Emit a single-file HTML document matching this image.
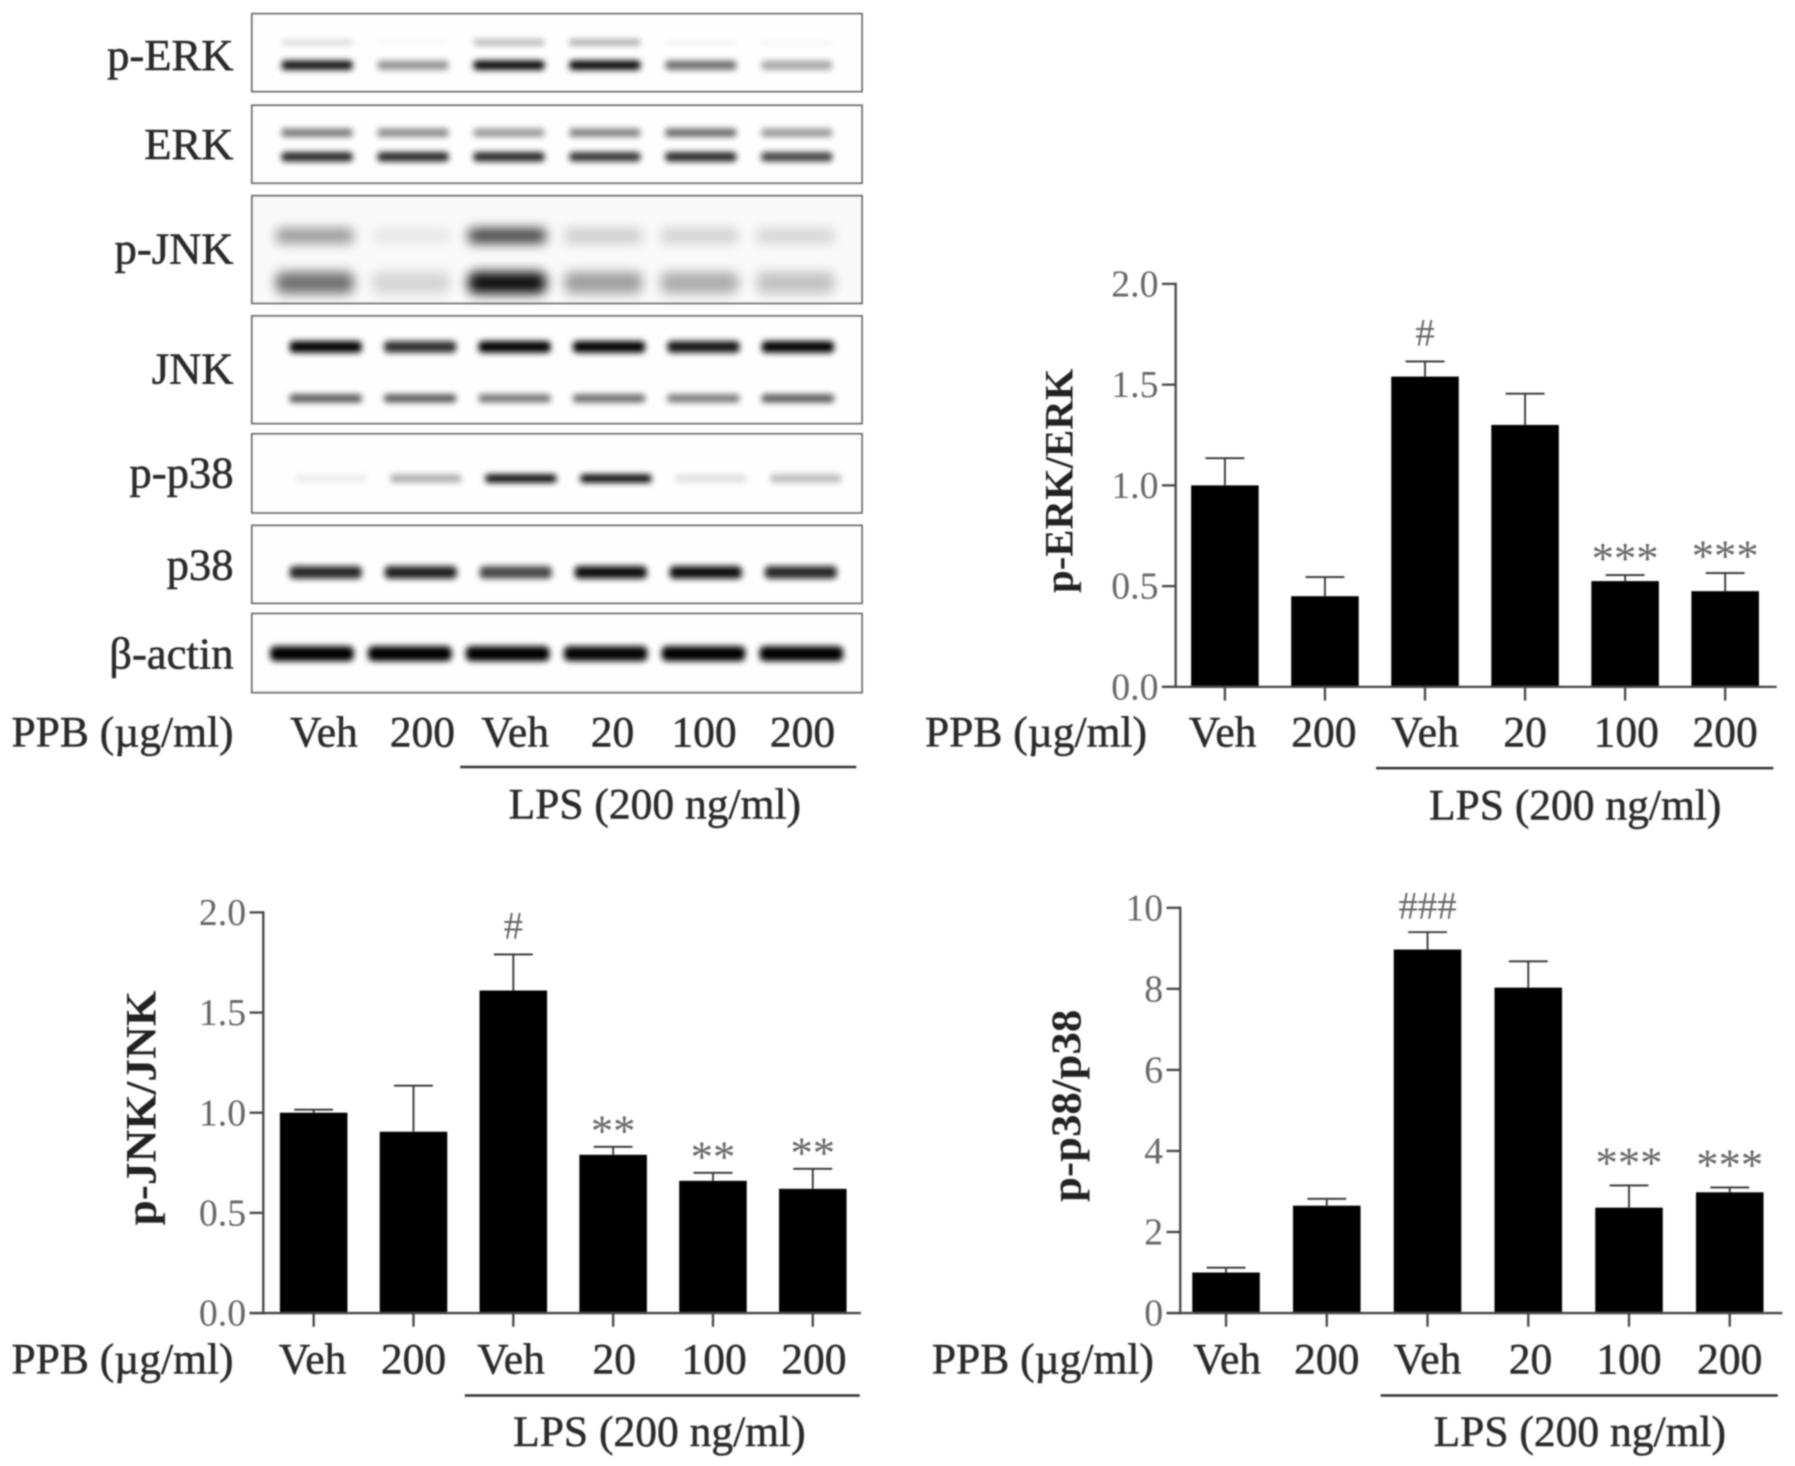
<!DOCTYPE html>
<html lang="en">
<head>
<meta charset="utf-8">
<title>PPB western blots and quantification</title>
<style>
html,body{margin:0;padding:0;background:#fff;}
svg{display:block;}
text{font-family:"Liberation Serif","Noto Serif CJK SC",serif;}
</style>
</head>
<body>
<svg id="figure" xmlns="http://www.w3.org/2000/svg" width="1795" height="1466" viewBox="0 0 1568 1280.6">
  <defs>
    <filter id="soft" x="-5%" y="-5%" width="110%" height="110%"><feGaussianBlur stdDeviation="0.6"/></filter>
    <filter id="bandBlur" x="-20%" y="-150%" width="140%" height="400%"><feGaussianBlur stdDeviation="2.8"/></filter>
    <filter id="smearBlur" x="-20%" y="-100%" width="140%" height="300%"><feGaussianBlur stdDeviation="5"/></filter>
  </defs>
  <rect width="1568" height="1281" fill="#fff"/>
  <g id="blots"></g>
  <g id="charts" filter="url(#soft)"></g>
</svg>
<script>
// ---- Chart data ----
const categories = ['Veh', '200', 'Veh', '20', '100', '200'];
const erkTicks = ['0.0', '0.5', '1.0', '1.5', '2.0'];
const erkValues = [1.0, 0.45, 1.54, 1.30, 0.525, 0.475];
const erkErrTops = [1.135, 0.545, 1.615, 1.455, 0.555, 0.565];
const erkMarks = ['', '', '#', '', '***', '***'];
const jnkTicks = ['0.0', '0.5', '1.0', '1.5', '2.0'];
const jnkValues = [1.0, 0.905, 1.61, 0.79, 0.66, 0.62];
const jnkErrTops = [1.015, 1.135, 1.79, 0.83, 0.70, 0.72];
const jnkMarks = ['', '', '#', '**', '**', '**'];
const p38Ticks = ['0', '2', '4', '6', '8', '10'];
const p38Values = [1.0, 2.65, 8.97, 8.03, 2.6, 2.98];
const p38ErrTops = [1.12, 2.82, 9.4, 8.68, 3.15, 3.1];
const p38Marks = ['', '', '###', '', '***', '***'];

// ---- Blot band intensities per lane ----
const pErkUpper = [0.14, 0.02, 0.3, 0.36, 0.04, 0.03];
const pErkLower = [0.95, 0.42, 1, 1, 0.58, 0.34];
const erkUpper = [0.55, 0.48, 0.42, 0.52, 0.62, 0.42];
const erkLower = [0.88, 0.88, 0.88, 0.82, 0.88, 0.76];
const pJnkUpper = [0.4, 0.07, 0.75, 0.18, 0.16, 0.15];
const pJnkLower = [0.55, 0.14, 0.95, 0.36, 0.3, 0.22];
const jnkUpper = [1, 0.82, 1, 1, 0.92, 1];
const jnkLower = [0.68, 0.68, 0.56, 0.6, 0.54, 0.68];
const pP38Band = [0.07, 0.32, 1, 1, 0.12, 0.27];
const p38Band = [0.85, 0.88, 0.72, 0.95, 0.95, 0.85];
const actinBand = [1, 1, 1, 0.98, 1, 1];

const NS = 'http://www.w3.org/2000/svg';
function make(parent, tag, attrs, content) {
  const el = document.createElementNS(NS, tag);
  for (const key in attrs) el.setAttribute(key, attrs[key]);
  if (content !== undefined) el.textContent = content;
  parent.appendChild(el);
  return el;
}
const blots = document.getElementById('blots');
const charts = document.getElementById('charts');

function label(parent, x, y, str, size, anchor, color, heavy) {
  const el = make(parent, 'text', {x: x, y: y, 'font-size': size, 'text-anchor': anchor, fill: color});
  el.textContent = str;
  if (heavy) {
    el.setAttribute('stroke', color);
    el.setAttribute('stroke-width', heavy);
  }
  return el;
}

function drawBlot(name, top, bottom, labelY, rows, start, step, width, bg) {
  const panel = make(blots, 'g', {});
  
  
  const frame = make(panel, 'rect', {x: 220, y: top, width: 533, height: bottom - top, fill: bg, stroke: '#6a6a6a', 'stroke-width': 1.6, filter: 'url(#soft)'});
  
  
  rows.forEach(function (row) {
    row.intensity.forEach(function (amount, i) {
      const band = make(panel, 'rect', {
        x: start + step * i, y: row.y - row.h / 2, width: width, height: row.h, rx: row.h / 3,
        fill: '#000', opacity: amount, filter: row.smear ? 'url(#smearBlur)' : 'url(#bandBlur)'
      });
      
      
    });
  });
  const text = label(panel, 204, labelY, name, 39, 'end', '#2a2a2a', 0.5);
  
  
  text.setAttribute('filter', 'url(#soft)');
}

drawBlot('p-ERK', 12, 80, 61, [{y: 37, h: 5, intensity: pErkUpper}, {y: 57, h: 8, intensity: pErkLower}], 246, 83.8, 62, '#fefefe');
drawBlot('ERK', 92, 160, 139, [{y: 116, h: 7, intensity: erkUpper}, {y: 137, h: 8, intensity: erkLower}], 246, 83.8, 62, '#fefefe');
drawBlot('p-JNK', 171, 265, 230, [{y: 206, h: 13, intensity: pJnkUpper, smear: true}, {y: 247, h: 19, intensity: pJnkLower, smear: true}], 241, 84, 68, '#f9f9f9');
drawBlot('JNK', 276, 370, 335, [{y: 303, h: 10, intensity: jnkUpper}, {y: 348, h: 7, intensity: jnkLower}], 253, 82.5, 63, '#fefefe');
drawBlot('p-p38', 379, 448, 426, [{y: 418, h: 7, intensity: pP38Band}], 258, 83, 62, '#fefefe');
drawBlot('p38', 459, 527, 506, [{y: 500, h: 11, intensity: p38Band}], 253, 83, 63, '#fefefe');
drawBlot('β-actin', 536, 605, 584, [{y: 571, h: 13, intensity: actinBand}], 236, 85.5, 73, '#fefefe');

function drawGroupLabels(parent, ppbRight, baseline, centers, lineX1, lineX2, lineY, lpsX, lpsY) {
  const ppb = label(parent, ppbRight, baseline, 'PPB (µg/ml)', 38, 'end', '#2a2a2a', 0.45);
  
  
  categories.forEach(function (cat, i) {
    const t = label(parent, centers[i], baseline, cat, 38, 'middle', '#2a2a2a', 0.45);
    
    
  });
  const rule = make(parent, 'line', {x1: lineX1, x2: lineX2, y1: lineY, y2: lineY, stroke: '#333', 'stroke-width': 2.2});
  
  
  const lps = label(parent, lpsX, lpsY, 'LPS (200 ng/ml)', 38, 'middle', '#2a2a2a', 0.45);
  
  
}

function drawChart(opt) {
  const g = make(charts, 'g', {});
  
  
  const yScale = function (v) { return opt.y0 - (v / opt.max) * (opt.y0 - opt.yTop); };
  const xScale = function (i) { return opt.x0 + opt.step * i; };

  opt.values.forEach(function (v, i) {
    const x = xScale(i);
    const top = yScale(v);
    const err = yScale(opt.errTops[i]);
    const stem = make(g, 'line', {x1: x, x2: x, y1: top, y2: err, stroke: '#333', 'stroke-width': 1.6});
    
    
    const cap = make(g, 'line', {x1: x - 17, x2: x + 17, y1: err, y2: err, stroke: '#333', 'stroke-width': 1.6});
    
    
    const bar = make(g, 'rect', {x: x - 29.5, y: top, width: 59, height: opt.y0 - top, fill: '#000'});
    
    
    const tick = make(g, 'line', {x1: x, x2: x, y1: opt.y0, y2: opt.y0 + 12, stroke: '#444', 'stroke-width': 2});
    
    
    const sym = opt.marks[i];
    if (sym) {
      const isHash = sym.charAt(0) === '#';
      const mark = label(g, x, err + (isHash ? -14 + opt.hashShift : -2 + opt.starShift), sym, isHash ? 34 : 39, 'middle', '#666');
      
      
    }
  });

  opt.ticks.forEach(function (tickLabel) {
    const y = yScale(parseFloat(tickLabel));
    const tick = make(g, 'line', {x1: opt.axisX - 12, x2: opt.axisX, y1: y, y2: y, stroke: '#444', 'stroke-width': 2});
    
    
    const t = label(g, opt.axisX - 15, y + 11, tickLabel, 33, 'end', '#666');
    
    
  });

  const yAxis = make(g, 'line', {x1: opt.axisX, x2: opt.axisX, y1: opt.yTop - 1, y2: opt.y0 + 1, stroke: '#444', 'stroke-width': 2});
  
  
  const xAxis = make(g, 'line', {x1: opt.axisX - 12, x2: opt.axisEnd, y1: opt.y0, y2: opt.y0, stroke: '#444', 'stroke-width': 2});
  
  

  const title = make(g, 'text', {
    transform: 'translate(' + opt.titleX + ',' + opt.titleY + ') rotate(-90)',
    'font-size': opt.titleSize, 'font-weight': 'bold', 'text-anchor': 'middle', fill: '#222',
    textLength: opt.titleLength, lengthAdjust: 'spacingAndGlyphs'
  }, opt.title);
  
  

  const centers = categories.map(function (c, i) { return xScale(i) + opt.labelShift[i]; });
  drawGroupLabels(g, opt.ppbRight, opt.baseline, centers, opt.lineX1, opt.lineX2, opt.lineY, opt.lpsX, opt.lpsY);
}

const blotLabels = make(charts, 'g', {});


drawGroupLabels(blotLabels, 204, 652, [283, 369, 450, 535, 615, 701], 402, 748, 670, 572, 715);

drawChart({
  title: 'p-ERK/ERK', titleSize: 35.5, titleLength: 196, ticks: erkTicks, values: erkValues, errTops: erkErrTops, marks: erkMarks, max: 2, starShift: 0, hashShift: 0,
  axisX: 1027, axisEnd: 1552, yTop: 248, y0: 600, x0: 1070, step: 87.4,
  titleX: 937, titleY: 420, ppbRight: 1002, baseline: 652, labelShift: [-2, -1, 0, 0, 1, 0],
  lineX1: 1202, lineX2: 1549, lineY: 671, lpsX: 1376, lpsY: 716
});
drawChart({
  title: 'p-JNK/JNK', titleSize: 38, titleLength: 205, ticks: jnkTicks, values: jnkValues, errTops: jnkErrTops, marks: jnkMarks, max: 2, starShift: 1, hashShift: 0,
  axisX: 230, axisEnd: 752, yTop: 797, y0: 1147, x0: 274, step: 87.2,
  titleX: 136, titleY: 968, ppbRight: 204, baseline: 1200, labelShift: [-1, 0, -2, 1, 1, 1],
  lineX1: 406, lineX2: 751, lineY: 1219, lpsX: 576, lpsY: 1263
});
drawChart({
  title: 'p-p38/p38', titleSize: 37, titleLength: 168, ticks: p38Ticks, values: p38Values, errTops: p38ErrTops, marks: p38Marks, max: 10, starShift: -5, hashShift: 2,
  axisX: 1031, axisEnd: 1557, yTop: 793, y0: 1147, x0: 1071, step: 88,
  titleX: 944, titleY: 966, ppbRight: 1008, baseline: 1200, labelShift: [1, 0, 0, 2, 0, 0],
  lineX1: 1206, lineX2: 1553, lineY: 1219, lpsX: 1380, lpsY: 1263
});
</script>
</body>
</html>
